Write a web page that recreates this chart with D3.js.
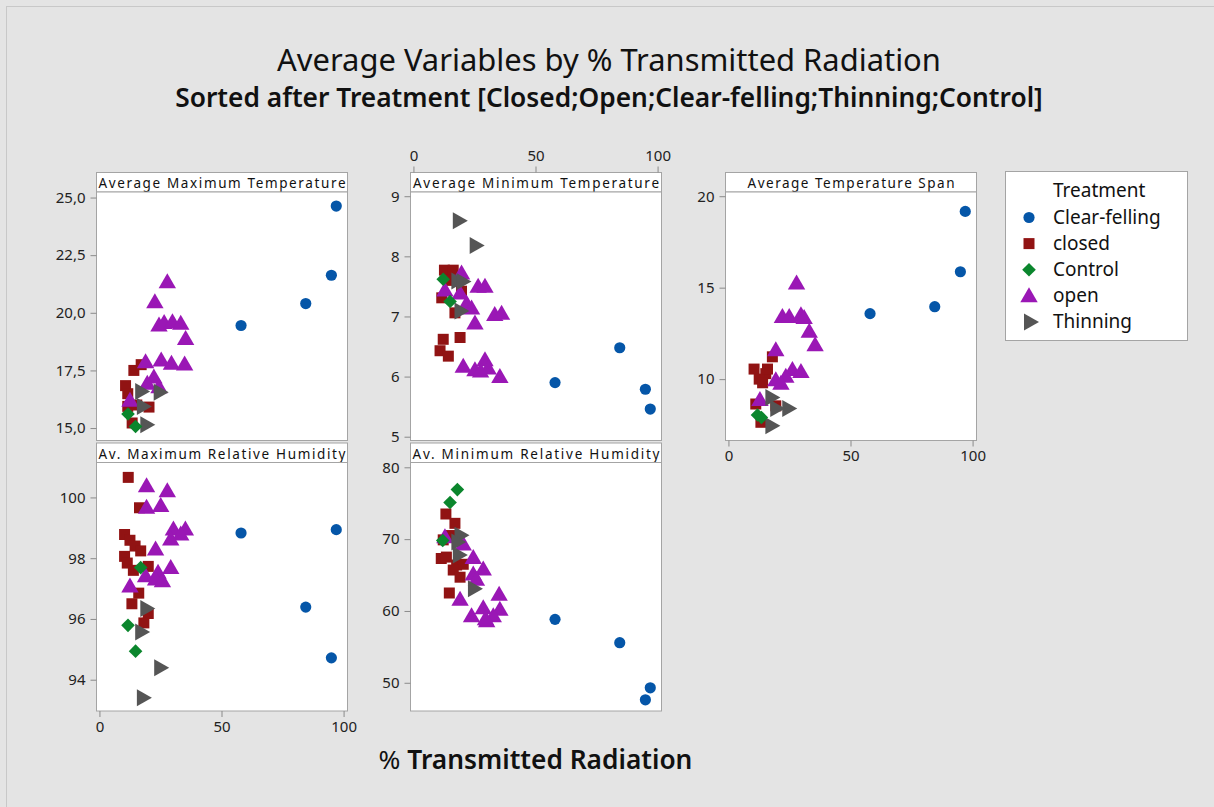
<!DOCTYPE html>
<html>
<head>
<meta charset="utf-8">
<script src="https://cdn.jsdelivr.net/npm/d3@7"></script>
<style>
  body { margin: 0; background: #e4e4e4; }
  svg { display: block; font-family: "Noto Sans", "Open Sans", sans-serif; }
</style>
</head>
<body>
<svg id="chart" width="1214" height="807"></svg>
<script>
// treatments, in legend order
const treatments = ["Clear-felling", "closed", "Control", "open", "Thinning"]
const drawOrder = ["closed", "open", "Clear-felling", "Thinning", "Control"]
const colors = ["#0556a8", "#911313", "#0b862d", "#9a17b5", "#555555"]

// x ticks shared by all panels
const xTicks = [0, 50, 100]

// [treatment, % transmitted radiation, value]
const maxTemp = [
  ["Clear-felling", 58, 19.45], ["Clear-felling", 84.5, 20.4], ["Clear-felling", 95, 21.63], ["Clear-felling", 97, 24.63],
  ["closed", 14.1, 17.5], ["closed", 17.1, 17.75], ["closed", 10.7, 16.84], ["closed", 11.6, 16.49], ["closed", 11.6, 15.94],
  ["closed", 20.3, 15.91], ["closed", 15.3, 16.0], ["closed", 13.4, 15.22],
  ["open", 27.8, 21.37], ["open", 22.7, 20.5], ["open", 24.4, 19.49], ["open", 26.5, 19.6], ["open", 29.9, 19.63], ["open", 33.3, 19.57],
  ["open", 35.3, 18.91], ["open", 25.3, 17.97], ["open", 29.5, 17.83], ["open", 34.9, 17.8], ["open", 18.9, 17.9],
  ["open", 22.3, 17.24], ["open", 19.6, 16.96], ["open", 24.4, 16.81], ["open", 12.5, 16.23],
  ["Thinning", 17.5, 16.59], ["Thinning", 25.1, 16.55], ["Thinning", 18.2, 15.94], ["Thinning", 19.6, 15.14],
  ["Control", 11.7, 15.61], ["Control", 14.8, 15.07]
]
const minTemp = [
  ["Clear-felling", 58, 5.9], ["Clear-felling", 84.5, 6.48], ["Clear-felling", 95, 5.79], ["Clear-felling", 97, 5.46],
  ["closed", 12.7, 7.77], ["closed", 16.3, 7.77], ["closed", 11.6, 7.31], ["closed", 19.7, 7.42], ["closed", 17.0, 7.06],
  ["closed", 19.1, 6.65], ["closed", 12.2, 6.62], ["closed", 10.9, 6.43], ["closed", 14.3, 6.34], ["closed", 15.5, 7.6],
  ["open", 19.7, 7.73], ["open", 12.9, 7.45], ["open", 26.5, 7.51], ["open", 29.3, 7.51], ["open", 19.1, 7.4],
  ["open", 21.8, 7.23], ["open", 23.8, 7.15], ["open", 33.3, 7.04], ["open", 36.1, 7.06], ["open", 25.2, 6.9],
  ["open", 20.4, 6.18], ["open", 25.2, 6.12], ["open", 29.3, 6.29], ["open", 30.6, 6.15], ["open", 35.4, 6.01], ["open", 27.5, 6.1],
  ["Thinning", 19, 8.59], ["Thinning", 25.9, 8.18], ["Thinning", 18.4, 7.59], ["Thinning", 20.5, 7.58], ["Thinning", 19.7, 7.09],
  ["Control", 12.2, 7.62], ["Control", 15, 7.25]
]
const tempSpan = [
  ["Clear-felling", 58, 13.58], ["Clear-felling", 84.5, 13.96], ["Clear-felling", 95, 15.87], ["Clear-felling", 97, 19.17],
  ["closed", 18, 11.22], ["closed", 10.5, 10.55], ["closed", 15.3, 10.3], ["closed", 12.6, 10.0], ["closed", 16, 10.55],
  ["closed", 14, 9.8], ["closed", 11.2, 8.64], ["closed", 19.4, 8.54], ["closed", 13.3, 7.64],
  ["open", 27.9, 15.28], ["open", 22.1, 13.45], ["open", 24.9, 13.45], ["open", 29.7, 13.55], ["open", 31.0, 13.4],
  ["open", 33.1, 12.64], ["open", 35.5, 11.9], ["open", 19.4, 11.64], ["open", 26.2, 10.55], ["open", 29.7, 10.45],
  ["open", 23.5, 10.18], ["open", 19.4, 10.0], ["open", 21.5, 9.8], ["open", 12.9, 8.91],
  ["Thinning", 18, 9.0], ["Thinning", 24.9, 8.4], ["Thinning", 20, 8.4], ["Thinning", 18, 7.45],
  ["Control", 11.9, 8.04], ["Control", 13.5, 7.9]
]
const maxRH = [
  ["Clear-felling", 58, 98.83], ["Clear-felling", 84.5, 96.39], ["Clear-felling", 95, 94.72], ["Clear-felling", 97, 98.94],
  ["closed", 11.8, 100.66], ["closed", 16.4, 99.66], ["closed", 10.3, 98.78], ["closed", 12.5, 98.59], ["closed", 14.6, 98.4],
  ["closed", 16.9, 98.24], ["closed", 10.3, 98.06], ["closed", 11.4, 97.84], ["closed", 13.9, 97.6], ["closed", 20.0, 97.73],
  ["closed", 16.1, 96.85], ["closed", 13.3, 96.5], ["closed", 20.0, 96.18], ["closed", 18.2, 95.87],
  ["open", 19.3, 100.4], ["open", 27.8, 100.24], ["open", 19.3, 99.69], ["open", 25.1, 99.75], ["open", 30.3, 98.98],
  ["open", 35.2, 98.98], ["open", 33.3, 98.81], ["open", 29.2, 98.65], ["open", 23, 98.32], ["open", 29.2, 97.71],
  ["open", 18.9, 97.44], ["open", 24, 97.55], ["open", 23, 97.33], ["open", 25.8, 97.27], ["open", 12.5, 97.1],
  ["Thinning", 19.6, 96.34], ["Thinning", 17.5, 95.57], ["Thinning", 25.3, 94.39], ["Thinning", 18.2, 93.41],
  ["Control", 16.9, 97.69], ["Control", 11.7, 95.79], ["Control", 14.8, 94.94]
]
const minRH = [
  ["Clear-felling", 58, 58.83], ["Clear-felling", 84.5, 55.58], ["Clear-felling", 95, 47.63], ["Clear-felling", 97, 49.3],
  ["closed", 13.3, 73.5], ["closed", 17, 72.2], ["closed", 12.2, 69.9], ["closed", 15.5, 70.5], ["closed", 11.4, 67.3],
  ["closed", 13.5, 67.5], ["closed", 17.7, 66.4], ["closed", 20.4, 66.5], ["closed", 16.3, 65.7], ["closed", 19.1, 64.7],
  ["closed", 14.7, 62.5],
  ["open", 12.9, 70.4], ["open", 20.4, 69.4], ["open", 24.5, 67.5], ["open", 28.6, 65.9], ["open", 24.5, 65.2],
  ["open", 25.8, 64.5], ["open", 19.1, 61.7], ["open", 35.1, 62.4], ["open", 35.4, 60.3], ["open", 23.8, 59.4],
  ["open", 28.6, 60.5], ["open", 30, 58.7], ["open", 32.7, 59.4], ["open", 29.5, 59.0],
  ["Thinning", 19.7, 70.55], ["Thinning", 18.4, 69.6], ["Thinning", 19, 67.8], ["Thinning", 25.2, 63.1],
  ["Control", 12, 69.8], ["Control", 15, 75.1], ["Control", 18, 76.9]
]

const maxTempTicks = [15, 17.5, 20, 22.5, 25]
const minTempTicks = [5, 6, 7, 8, 9]
const spanTicks = [10, 15, 20]
const maxRHTicks = [94, 96, 98, 100]
const minRHTicks = [50, 60, 70, 80]

const svg = d3.select("#chart")
const comma = d3.formatLocale({ decimal: ",", thousands: ".", grouping: [3], currency: ["", ""] })

// outer frame
svg.append("rect").attr("x", 6.5).attr("y", 6.5).attr("width", 1210).attr("height", 805)
  .attr("fill", "#e4e4e4").attr("stroke", "#c8c8c8")

const color = d3.scaleOrdinal().domain(treatments).range(colors)

function shape(t) {
  if (t === "Clear-felling") return d3.symbol(d3.symbolCircle, 98)()
  if (t === "closed") return "M-5.5,-5.5H5.5V5.5H-5.5Z"
  if (t === "Control") return "M0,-6.8L6.8,0L0,6.8L-6.8,0Z"
  if (t === "open") return "M0,-8L8.7,7L-8.7,7Z"
  return "M-7,-8.5L8,0L-7,8.5Z"
}

function fitWidth(text, target) {
  const w = text.node().getComputedTextLength()
  const fs = parseFloat(text.style("font-size"))
  text.style("font-size", (fs * target / w) + "px")
}

// panels
const panels = [
  { title: "Average Maximum Temperature", data: maxTemp, ticks: maxTempTicks, fmt: comma.format(".1f"),
    yDom: [14.46, 25.24], x0: 96.5, y0: 172.5, xAxis: null, tw: 247 },
  { title: "Average Minimum Temperature", data: minTemp, ticks: minTempTicks, fmt: d3.format("d"),
    yDom: [4.937, 9.07], x0: 410.5, y0: 172.5, xAxis: "top", tw: 246 },
  { title: "Average Temperature Span", data: tempSpan, ticks: spanTicks, fmt: d3.format("d"),
    yDom: [6.645, 20.23], x0: 725.5, y0: 172.5, xAxis: "bottom", tw: 207 },
  { title: "Av. Maximum Relative Humidity", data: maxRH, ticks: maxRHTicks, fmt: d3.format("d"),
    yDom: [92.97, 101.15], x0: 96.5, y0: 443, xAxis: "bottom", tw: 247 },
  { title: "Av. Minimum Relative Humidity", data: minRH, ticks: minRHTicks, fmt: d3.format("d"),
    yDom: [46.07, 80.67], x0: 410.5, y0: 443, xAxis: null, tw: 247 }
]

const panelW = 251, headH = 19.5, plotH = 248.5

panels.forEach(p => {
  const g = svg.append("g").attr("transform", `translate(${p.x0},${p.y0})`)
  const top = headH
  const x = d3.scaleLinear().domain([-1.2, 101.6]).range([0, panelW])
  const y = d3.scaleLinear().domain(p.yDom).range([top + plotH, top])

  g.append("rect").attr("x", 0).attr("y", 0).attr("width", panelW).attr("height", headH)
    .attr("fill", "white").attr("stroke", "#a4a4a4")
  g.append("text").attr("x", panelW / 2).attr("y", 15.8).attr("text-anchor", "middle")
    .style("font-size", "13.5px").attr("fill", "#111")
    .attr("textLength", p.tw).attr("lengthAdjust", "spacing")
    .text(p.title)

  g.append("rect").attr("x", 0).attr("y", top).attr("width", panelW).attr("height", plotH)
    .attr("fill", "white").attr("stroke", "#a4a4a4")

  // y axis
  const ya = g.append("g").call(d3.axisLeft(y).tickValues(p.ticks).tickFormat(p.fmt).tickSize(6).tickPadding(5))
  ya.select(".domain").remove()
  ya.selectAll("line").attr("stroke", "#8a8a8a")
  ya.selectAll("text").style("font-size", "15px").attr("fill", "#222").style("font-family", "Noto Sans")

  if (p.xAxis) {
    const axis = p.xAxis === "top" ? d3.axisTop(x).tickPadding(6) : d3.axisBottom(x).tickPadding(4)
    const xa = g.append("g")
      .attr("transform", `translate(0,${p.xAxis === "top" ? 0 : top + plotH})`)
      .call(axis.tickValues(xTicks).tickFormat(d3.format("d")).tickSize(6))
    xa.select(".domain").remove()
    xa.selectAll("line").attr("stroke", "#8a8a8a")
    xa.selectAll("text").style("font-size", "15px").attr("fill", "#222").style("font-family", "Noto Sans")
  }

  const pts = drawOrder.flatMap(t => p.data.filter(d => d[0] === t))
  g.append("g").selectAll("path").data(pts).join("path")
    .attr("d", d => shape(d[0]))
    .attr("transform", d => `translate(${x(d[1])},${y(d[2])})`)
    .attr("fill", d => color(d[0]))
})

// legend
const legend = svg.append("g")
legend.append("rect").attr("x", 1005.5).attr("y", 171.5).attr("width", 182).attr("height", 169)
  .attr("fill", "white").attr("stroke", "#a4a4a4")
legend.append("text").attr("x", 1053).attr("y", 196.5).style("font-size", "19px").attr("fill", "#111")
  .text("Treatment")
const items = legend.selectAll(".item").data(treatments).join("g").attr("class", "item")
  .attr("transform", (d, i) => `translate(0,${224 + i * 26.1})`)
items.append("path").attr("d", d => shape(d))
  .attr("transform", d => `translate(${d === "Thinning" ? 1031 : 1029},${d === "open" ? -7 : -6.5})`)
  .attr("fill", d => color(d))
items.append("text").attr("x", 1053).attr("y", 0).style("font-size", "19px").attr("fill", "#111").text(d => d)

// titles
const t1 = svg.append("text").attr("x", 609).attr("y", 71).attr("text-anchor", "middle")
  .style("font-size", "26px").attr("fill", "#111").text("Average Variables by % Transmitted Radiation")
fitWidth(t1, 664)
const t2 = svg.append("text").attr("x", 609).attr("y", 106.5).attr("text-anchor", "middle")
  .style("font-size", "21px").style("font-weight", 600).attr("fill", "#111")
  .text("Sorted after Treatment [Closed;Open;Clear-felling;Thinning;Control]")
fitWidth(t2, 868)

const xl = svg.append("text").attr("x", 535.5).attr("y", 769).attr("text-anchor", "middle")
  .style("font-size", "24px").attr("fill", "#111")
xl.append("tspan").text("% ")
xl.append("tspan").style("font-weight", 600).text("Transmitted Radiation")
fitWidth(xl, 314)
</script>
</body>
</html>
